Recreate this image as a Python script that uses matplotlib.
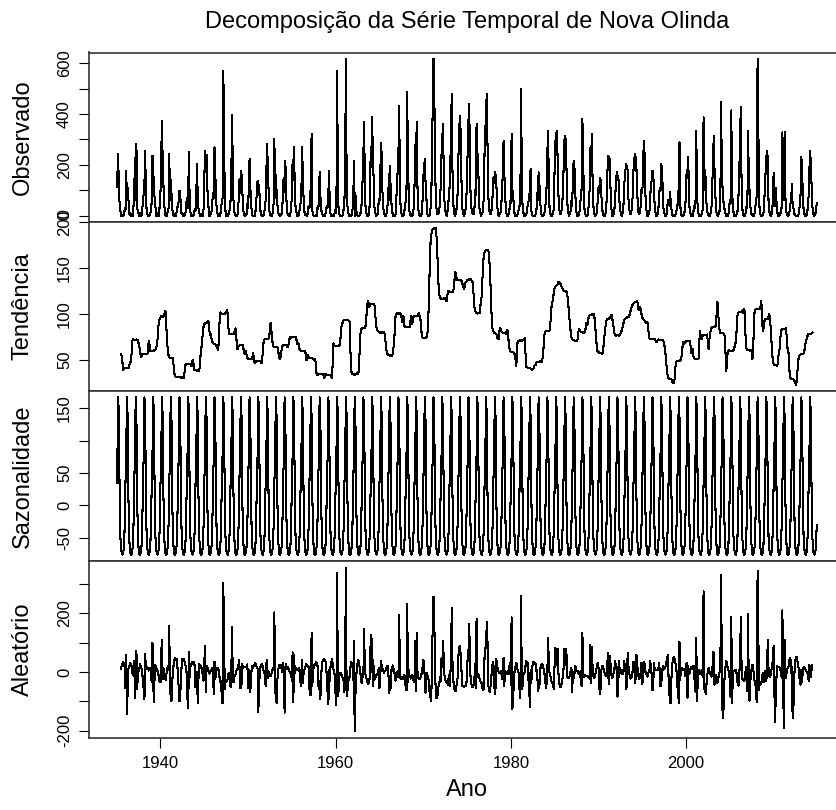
import numpy as np
import matplotlib.pyplot as plt

plt.rcParams['font.family'] = ['Liberation Sans', 'DejaVu Sans']

# chuva mensal em Nova Olinda (mm), jan..dez de cada ano, a partir de 1935
ano_inicio = 1935

chuva_1930s = [
    112, 164, 243, 95, 48, 22, 0, 3, 0, 0, 8, 25,        # 1935
    20, 177, 65, 110, 70, 8, 12, 0, 0, 5, 0, 37,
    145, 60, 275, 282, 30, 18, 6, 0, 10, 0, 3, 35,
    40, 95, 130, 256, 85, 20, 5, 0, 0, 2, 12, 15,
    60, 236, 190, 95, 70, 38, 0, 0, 0, 10, 0, 45,
]
chuva_1940s = [
    95, 240, 374, 210, 130, 40, 25, 0, 0, 0, 20, 30,     # 1940
    243, 60, 140, 90, 25, 12, 0, 0, 5, 0, 14, 35,
    35, 60, 98, 85, 30, 5, 10, 0, 0, 0, 7, 30,
    70, 30, 90, 250, 45, 15, 0, 3, 0, 0, 12, 25,
    20, 80, 204, 70, 30, 18, 0, 0, 0, 8, 0, 26,
    150, 256, 190, 240, 130, 48, 30, 0, 0, 12, 18, 54,
    90, 70, 269, 180, 80, 25, 10, 0, 0, 0, 4, 40,
    45, 70, 571, 387, 60, 20, 0, 0, 0, 6, 12, 29,
    60, 150, 398, 200, 60, 15, 8, 0, 0, 0, 10, 59,
    140, 90, 177, 160, 110, 30, 12, 0, 0, 5, 8, 48,
]
chuva_1950s = [
    30, 110, 223, 120, 40, 22, 0, 0, 0, 0, 15, 40,       # 1950
    100, 138, 80, 120, 70, 18, 5, 0, 0, 2, 10, 33,
    60, 180, 282, 190, 90, 20, 10, 0, 0, 0, 18, 50,
    302, 70, 160, 95, 50, 15, 5, 0, 0, 4, 8, 35,
    130, 150, 95, 217, 110, 30, 10, 5, 0, 0, 10, 35,
    80, 220, 140, 269, 90, 35, 20, 0, 0, 0, 12, 34,
    50, 90, 269, 160, 70, 20, 3, 6, 0, 0, 12, 40,
    30, 50, 140, 322, 20, 5, 0, 0, 0, 3, 0, 30,
    25, 55, 171, 80, 30, 10, 5, 0, 0, 0, 8, 24,
    40, 35, 90, 177, 20, 8, 0, 0, 0, 4, 0, 22,
]
chuva_1960s = [
    10, 30, 571, 120, 20, 5, 0, 0, 0, 0, 6, 30,          # 1960
    60, 200, 617, 150, 40, 20, 0, 0, 0, 0, 4, 25,
    40, 217, 0, 90, 25, 5, 0, 0, 0, 2, 10, 19,
    80, 150, 250, 368, 100, 30, 10, 0, 0, 0, 20, 60,
    270, 190, 390, 200, 150, 35, 18, 0, 0, 4, 10, 65,
    60, 140, 285, 240, 100, 40, 10, 5, 0, 0, 16, 40,
    110, 60, 197, 130, 80, 10, 12, 0, 0, 0, 5, 56,
    130, 180, 250, 433, 110, 30, 12, 0, 0, 0, 15, 40,
    60, 100, 486, 190, 110, 20, 4, 0, 6, 0, 10, 34,
    120, 280, 200, 368, 120, 30, 10, 0, 0, 0, 12, 60,
]
chuva_1970s = [
    150, 180, 223, 140, 90, 25, 0, 0, 0, 4, 30, 58,      # 1970
    300, 420, 617, 538, 220, 90, 30, 8, 5, 10, 20, 70,
    120, 240, 300, 361, 180, 60, 25, 10, 0, 15, 20, 85,
    110, 190, 330, 479, 180, 50, 20, 0, 5, 10, 40, 86,
    220, 300, 394, 340, 190, 40, 20, 5, 0, 12, 25, 62,
    170, 280, 380, 440, 180, 60, 30, 10, 5, 5, 20, 100,
    80, 361, 250, 230, 110, 30, 15, 0, 5, 10, 30, 79,
    260, 330, 420, 479, 290, 80, 40, 10, 5, 15, 30, 81,
    150, 130, 171, 160, 140, 50, 20, 0, 0, 10, 14, 55,
    90, 180, 295, 170, 100, 30, 10, 0, 0, 5, 20, 60,
]
chuva_1980s = [
    50, 322, 100, 90, 40, 10, 0, 0, 0, 5, 15, 28,        # 1980
    40, 60, 499, 150, 40, 15, 0, 0, 0, 6, 10, 44,
    50, 80, 90, 184, 20, 5, 0, 0, 0, 0, 8, 19,
    90, 60, 171, 130, 70, 20, 5, 0, 0, 2, 10, 30,
    60, 120, 250, 335, 130, 30, 10, 0, 0, 4, 10, 35,
    200, 290, 320, 335, 230, 90, 40, 10, 5, 15, 30, 79,
    160, 280, 315, 300, 220, 60, 30, 10, 0, 10, 20, 59,
    40, 150, 217, 200, 110, 40, 10, 0, 0, 5, 15, 53,
    70, 110, 381, 220, 80, 20, 5, 0, 0, 0, 20, 54,
    110, 269, 230, 322, 130, 40, 15, 0, 0, 5, 20, 59,
]
chuva_1990s = [
    110, 90, 150, 140, 80, 30, 10, 0, 0, 0, 12, 50,      # 1990
    150, 236, 220, 230, 170, 50, 20, 0, 0, 10, 30, 84,
    120, 171, 160, 150, 130, 40, 20, 5, 0, 8, 20, 100,
    150, 180, 204, 190, 180, 70, 30, 10, 5, 15, 30, 88,
    180, 220, 243, 230, 190, 90, 50, 10, 5, 20, 40, 102,
    90, 150, 295, 260, 110, 40, 15, 0, 0, 8, 20, 80,
    120, 140, 177, 160, 120, 35, 15, 0, 0, 5, 20, 72,
    110, 100, 204, 190, 110, 30, 15, 0, 0, 5, 15, 61,
    50, 40, 92, 60, 25, 5, 0, 0, 0, 0, 8, 20,
    30, 70, 110, 289, 40, 15, 0, 0, 0, 5, 15, 26,
]
chuva_2000s = [
    130, 180, 150, 230, 80, 20, 10, 0, 0, 0, 12, 40,     # 2000
    30, 60, 335, 90, 30, 10, 0, 0, 0, 5, 10, 30,
    387, 100, 180, 140, 50, 20, 5, 0, 0, 0, 15, 39,
    120, 230, 315, 180, 90, 30, 5, 0, 0, 10, 20, 56,
    446, 180, 110, 60, 40, 20, 10, 0, 0, 0, 4, 30,
    60, 50, 414, 90, 50, 15, 0, 0, 0, 5, 10, 26,
    90, 180, 300, 427, 150, 30, 10, 0, 0, 0, 20, 41,
    30, 335, 140, 100, 40, 15, 3, 0, 0, 0, 10, 35,
    60, 80, 617, 374, 60, 20, 5, 0, 0, 4, 12, 28,
    130, 170, 230, 256, 220, 60, 20, 5, 0, 5, 20, 60,
]
chuva_2010s = [
    170, 60, 40, 110, 50, 15, 0, 0, 0, 5, 20, 34,        # 2010
    328, 120, 60, 330, 80, 20, 10, 0, 0, 5, 20, 47,
    60, 125, 40, 35, 10, 5, 0, 0, 0, 0, 5, 20,
    50, 90, 230, 160, 80, 25, 10, 0, 0, 0, 10, 41,
    80, 180, 256, 200, 120, 40, 10, 0, 0, 5, 20, 49,
]

anos_ticks = [1940, 1960, 1980, 2000]

chuva = np.array(chuva_1930s + chuva_1940s + chuva_1950s + chuva_1960s
                 + chuva_1970s + chuva_1980s + chuva_1990s + chuva_2000s
                 + chuva_2010s, dtype=float)
n = len(chuva)
tempo = ano_inicio + np.arange(n) / 12

# decomposicao aditiva (como decompose() do R)
pesos = np.r_[0.5, np.ones(11), 0.5] / 12
tendencia = np.full(n, np.nan)
tendencia[6:n - 6] = np.convolve(chuva, pesos, mode='valid')
det = chuva - tendencia
figura = np.array([np.nanmean(det[m::12]) for m in range(12)])
figura = figura - figura.mean()
sazonal = np.tile(figura, n // 12)
aleatorio = chuva - tendencia - sazonal

fig = plt.figure(figsize=(8.36, 8.10), dpi=100)

W, H = 836, 810
left, right = 88.7, 844.7
bordas = [52.5, 222, 391, 561, 737.5]
series = [chuva, tendencia, sazonal, aleatorio]
nomes = ['Observado', 'Tendência', 'Sazonalidade', 'Aleatório']
ticks = [
    ([0, 100, 200, 300, 400, 500, 600], ['0', '', '200', '', '400', '', '600']),
    ([50, 100, 150, 200], ['50', '100', '150', '200']),
    ([-50, 0, 50, 100, 150], ['-50', '0', '50', '', '150']),
    ([-200, -100, 0, 100, 200, 300], ['-200', '', '0', '', '200', '']),
]

span = tempo[-1] - tempo[0]
xlim = (tempo[0] - 0.04 * span, tempo[-1] + 0.04 * span)

for i in range(4):
    top, bot = bordas[i], bordas[i + 1]
    ax = fig.add_axes([left / W, 1 - bot / H, (right - left) / W, (bot - top) / H])
    y = series[i]
    ax.plot(tempo, y, color='black', lw=0.75, antialiased=False)
    lo, hi = np.nanmin(y), np.nanmax(y)
    r = hi - lo
    ax.set_ylim(lo - 0.04 * r, hi + 0.04 * r)
    ax.set_xlim(*xlim)
    ax.set_yticks(ticks[i][0])
    ax.set_yticklabels(ticks[i][1], rotation=90, va='center', fontsize=12)
    ax.tick_params(axis='y', direction='out', length=7, width=0.8, pad=5)
    ax.set_ylabel(nomes[i], fontsize=17)
    ax.yaxis.set_label_coords(-0.0724, 0.5)
    for s in ax.spines.values():
        s.set_color('#333333')
        s.set_linewidth(1.2)
    if i < 3:
        ax.tick_params(axis='x', bottom=False, labelbottom=False)
    else:
        ax.set_xticks(anos_ticks)
        ax.set_xticklabels([str(a) for a in anos_ticks], fontsize=12)
        ax.tick_params(axis='x', direction='out', length=7, width=0.8, pad=6)

cx = (left + right) / 2 / W
fig.text(cx, 1 - 22 / H, 'Decomposição da Série Temporal de Nova Olinda',
         ha='center', va='center', fontsize=17)
fig.text(cx, 1 - 790 / H, 'Ano', ha='center', va='center', fontsize=17)

fig.savefig('out.png', dpi=100)
